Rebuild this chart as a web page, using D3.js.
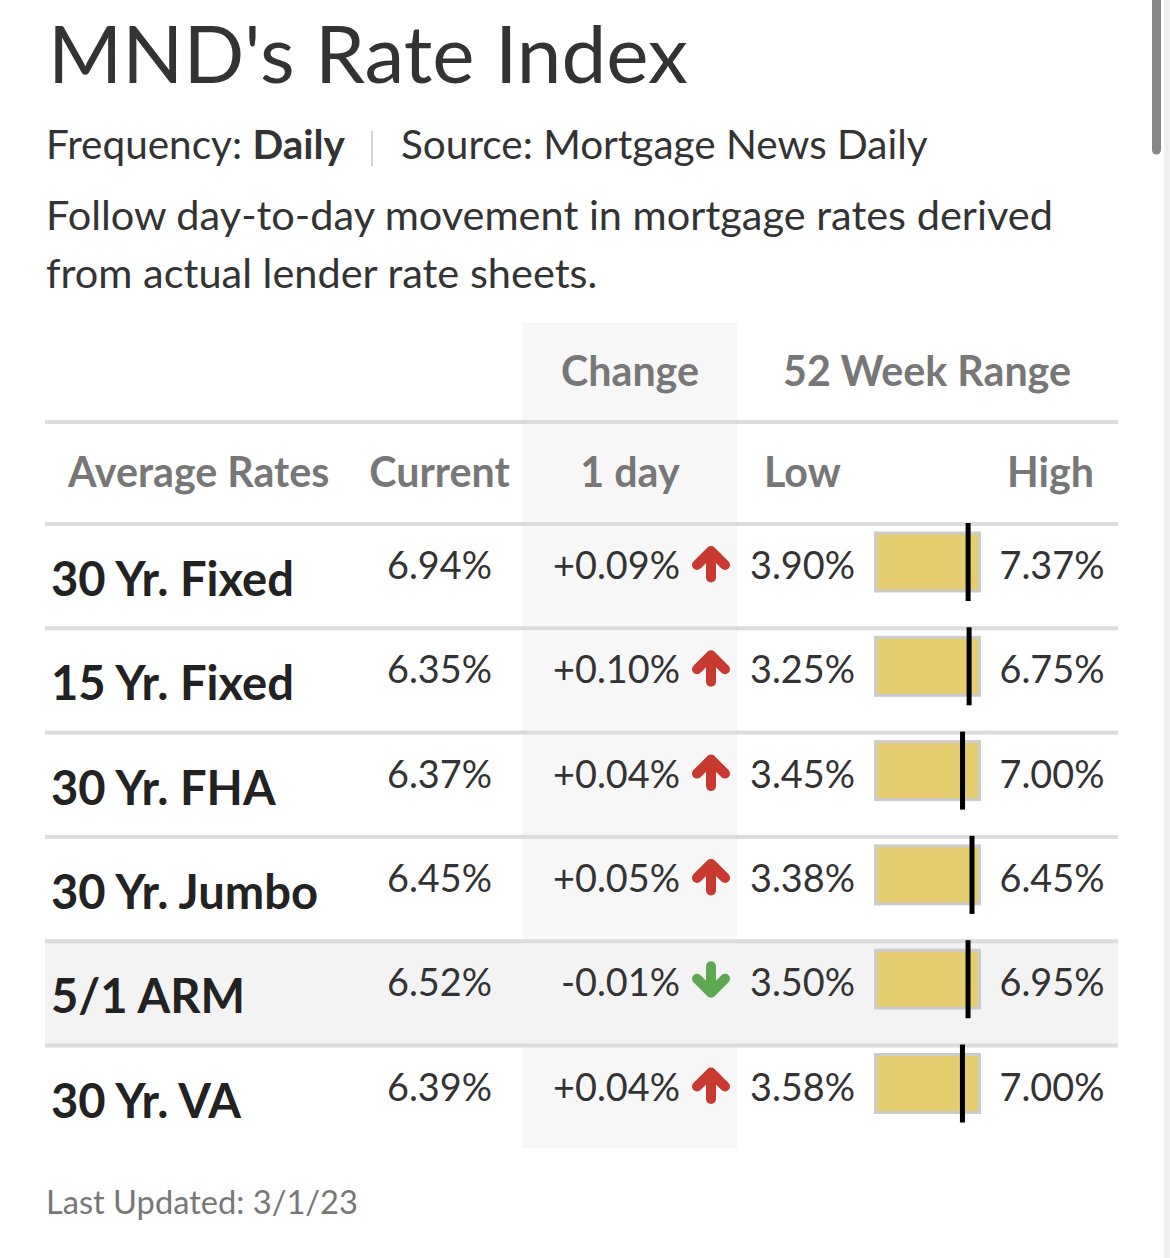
<!DOCTYPE html>
<html><head><meta charset="utf-8">
<script src="https://cdn.jsdelivr.net/npm/d3@7"></script>
<style>html,body{margin:0;padding:0;background:#fff;overflow:hidden}</style>
</head><body><svg id="c" width="1170" height="1258"></svg>
<script>
// ---- data ----
const products = ["30 Yr. Fixed","15 Yr. Fixed","30 Yr. FHA","30 Yr. Jumbo","5/1 ARM","30 Yr. VA"];
const current  = [6.94, 6.35, 6.37, 6.45, 6.52, 6.39];
const change1d = [0.09, 0.10, 0.04, 0.05, -0.01, 0.04];
const low52    = [3.90, 3.25, 3.45, 3.38, 3.50, 3.58];
const high52   = [7.37, 6.75, 7.00, 6.45, 6.95, 7.00];
const highlightedRow = "5/1 ARM";
const titleText = "MND's Rate Index";
const frequency = "Daily";
const source = "Mortgage News Daily";
const descLines = ["Follow day-to-day movement in mortgage rates derived", "from actual lender rate sheets."];
const groupHeaders = ["Change", "52 Week Range"];
const colHeaders = ["Average Rates", "Current", "1 day", "Low", "High"];
const lastUpdated = "3/1/23";

const rows = products.map((p,i)=>({product:p, current:current[i], change:change1d[i], low:low52[i], high:high52[i]}));

// ---- layout ----
const W = 1170, H = 1258;
const FONT = "Lato, 'Noto Sans', sans-serif";
const svg = d3.select("#c");
svg.append("rect").attr("width",W).attr("height",H).attr("fill","#fff");

function fit(sel, w){
  const m = sel.node().getComputedTextLength();
  const fs = parseFloat(sel.attr("font-size"));
  const nfs = fs*w/m;
  sel.attr("font-size", nfs);
  return nfs;
}
const pct = v => v.toFixed(2) + "%";
const sgn = v => (v>0?"+":"") + v.toFixed(2) + "%";

// scrollbar
svg.append("rect").attr("x",1164).attr("y",0).attr("width",6).attr("height",H).attr("fill","#efefef");
svg.append("path").attr("d","M1152,0 H1161 V150 A4.5,4.5 0 0 1 1152,150 Z").attr("fill","#888");

// title block
const t = svg.append("text").attr("x",48).attr("y",83).attr("font-family",FONT)
  .attr("font-size",80).attr("fill","#333").text(titleText);
fit(t, 640);

const sub1 = svg.append("text").attr("x",46).attr("y",159).attr("font-family",FONT)
  .attr("font-size",36).attr("fill","#333");
sub1.append("tspan").text("Frequency: ");
sub1.append("tspan").attr("font-weight","bold").text(frequency);
const subFs = fit(sub1, 299);
svg.append("line").attr("x1",372).attr("x2",372).attr("y1",131).attr("y2",166)
  .attr("stroke","#d4d4d4").attr("stroke-width",2);
svg.append("text").attr("x",401).attr("y",159).attr("font-family",FONT)
  .attr("font-size",subFs).attr("fill","#333").text("Source: " + source);

const d1 = svg.append("text").attr("x",46).attr("y",230).attr("font-family",FONT)
  .attr("font-size",38).attr("fill","#333").text(descLines[0]);
const descFs = fit(d1, 1007);
svg.append("text").attr("x",46).attr("y",288).attr("font-family",FONT)
  .attr("font-size",descFs).attr("fill","#333").text(descLines[1]);

// ---- table ----
const tableX0 = 45, tableX1 = 1118;
const y = d3.scaleBand().domain(products).range([523, 1148.8]).paddingInner(0).paddingOuter(0);
const step = y.step();

// change column shading
svg.append("rect").attr("x",523).attr("y",323).attr("width",214).attr("height",1148-323).attr("fill","#f7f7f7");

// highlighted row bg
svg.append("rect").attr("x",tableX0).attr("y",y(highlightedRow)).attr("width",tableX1-tableX0)
  .attr("height",step).attr("fill","#f3f3f3");

// header lines
svg.append("rect").attr("x",tableX0).attr("y",420).attr("width",tableX1-tableX0).attr("height",4).attr("fill","#dcdcdc");

// group headers
const hdrStyle = s => s.attr("font-family",FONT).attr("font-weight","bold").attr("fill","#777");
const gh1 = svg.append("text").attr("x",630).attr("y",386).attr("text-anchor","middle").attr("font-size",40).call(hdrStyle).text(groupHeaders[0]);
const hdrFs = fit(gh1, 138);
svg.append("text").attr("x",927).attr("y",386).attr("text-anchor","middle").attr("font-size",hdrFs).call(hdrStyle).text(groupHeaders[1]);

const colPos = [
  {x:68, anchor:"start"},
  {x:439.5, anchor:"middle"},
  {x:630, anchor:"middle"},
  {x:764, anchor:"start"},
  {x:1094, anchor:"end"}
];
colHeaders.forEach((h,i)=>{
  svg.append("text").attr("x",colPos[i].x).attr("y",487).attr("text-anchor",colPos[i].anchor)
    .attr("font-size",hdrFs).call(hdrStyle).text(h);
});

// row lines
svg.selectAll("rect.rowline").data(products).join("rect").attr("class","rowline")
  .attr("x",tableX0).attr("y",d=>y(d)-1).attr("width",tableX1-tableX0).attr("height",4).attr("fill","#dcdcdc");

// rows
const g = svg.selectAll("g.row").data(rows).join("g").attr("class","row")
  .attr("transform",d=>`translate(0,${y(d.product)})`);

const lbl0 = svg.append("text").attr("font-family",FONT).attr("font-weight","bold").attr("font-size",48).text(products[0]);
const lblFs = fit(lbl0, 243); lbl0.remove();
const val0 = svg.append("text").attr("font-family",FONT).attr("font-size",44).text(pct(current[0]));
const valFs = fit(val0, 105); val0.remove();

g.append("text").attr("x",51).attr("y",73).attr("font-family",FONT).attr("font-weight","bold")
  .attr("font-size",lblFs).attr("fill","#222").text(d=>d.product);

const valText = (sel) => sel.attr("y",56).attr("font-family",FONT).attr("font-size",valFs).attr("fill","#333");
g.append("text").attr("x",439.5).attr("text-anchor","middle").call(valText).text(d=>pct(d.current));
g.append("text").attr("x",680).attr("text-anchor","end").call(valText).text(d=>sgn(d.change));
g.append("text").attr("x",750).attr("text-anchor","start").call(valText).text(d=>pct(d.low));
g.append("text").attr("x",1052).attr("text-anchor","middle").call(valText).text(d=>pct(d.high));

// arrows (chevron + shaft, rounded)
const arrowColor = d => d.change>=0 ? "#c83a30" : "#5ea851";
const ag = g.append("g")
  .attr("transform",d=>`translate(711,${d.change>=0?41:39.5}) scale(1,${d.change>=0?1:-1})`)
  .attr("fill","none").attr("stroke",arrowColor).attr("stroke-width",10)
  .attr("stroke-linecap","round").attr("stroke-linejoin","round");
ag.append("path").attr("d","M-14,1 L0,-13 L14,1");
ag.append("path").attr("d","M0,-11 L0,13.5");

// 52-week range bars
const barX0 = 875.5, barW = 104;
g.append("rect").attr("x",barX0).attr("y",10).attr("width",barW).attr("height",58)
  .attr("fill","#e6cd6f").attr("stroke","#cccccc").attr("stroke-width",3);
g.append("rect")
  .attr("x",d=>{
    const s = d3.scaleLinear().domain([d.low,d.high]).range([877,981]);
    return Math.min(s(d.current), 972) - 2.5;
  })
  .attr("y",0).attr("width",5).attr("height",78).attr("fill","#000");

// footer
const f = svg.append("text").attr("x",46).attr("y",1214).attr("font-family",FONT)
  .attr("font-size",34).attr("fill","#777").text("Last Updated: " + lastUpdated);
fit(f, 312);
</script></body></html>
